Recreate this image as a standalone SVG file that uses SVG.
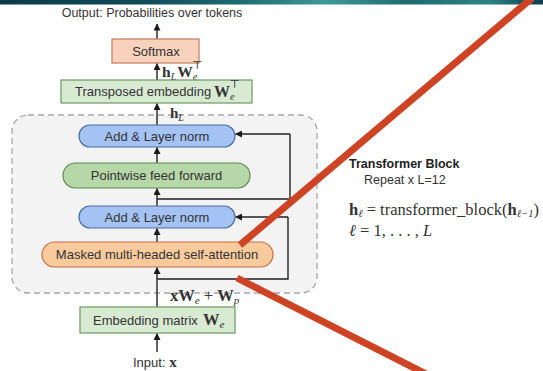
<svg xmlns="http://www.w3.org/2000/svg" width="543" height="371" viewBox="0 0 543 371">
  <defs>
    <linearGradient id="band" x1="0" y1="0" x2="1" y2="0">
      <stop offset="0" stop-color="#0b3a4b"/>
      <stop offset="0.25" stop-color="#0f4a58"/>
      <stop offset="0.45" stop-color="#1f6d74"/>
      <stop offset="0.6" stop-color="#3d9a9a"/>
      <stop offset="0.75" stop-color="#1d6a72"/>
      <stop offset="0.9" stop-color="#2c8486"/>
      <stop offset="1" stop-color="#0c3c4c"/>
    </linearGradient>
    <marker id="arr" viewBox="0 0 8 8" refX="7.5" refY="4" markerWidth="7" markerHeight="7" markerUnits="userSpaceOnUse" orient="auto">
      <path d="M0,0 L8,4 L0,8 Z" fill="#1a1a1a"/>
    </marker>
  </defs>
  <style>
    .lbl { font-family: "Liberation Sans", Arial, sans-serif; font-size: 13px; fill: #333; text-anchor: middle; }
    .math { font-family: "Liberation Serif", "DejaVu Serif", serif; fill: #333; }
    .b { font-weight: bold; }
    .it { font-style: italic; }
    .wire { stroke: #222; stroke-width: 1.4; fill: none; }
    .arrow { stroke: #222; stroke-width: 1.4; fill: none; marker-end: url(#arr); }
    .green { fill: #d9ead3; stroke: #6b9a5e; stroke-width: 1.2; }
    .pill-blue { fill: #a4c2f4; stroke: #4f6f9f; stroke-width: 1.2; }
    .pill-green { fill: #b6d7a8; stroke: #5e8a4e; stroke-width: 1.2; }
    .pill-orange { fill: #f9cb9c; stroke: #c4704a; stroke-width: 1.2; }
    .salmon { fill: #f9d2be; stroke: #c27a5c; stroke-width: 1.2; }
    .strike { stroke: #cf4325; stroke-width: 7; fill: none; }
  </style>

  <rect width="543" height="371" fill="#ffffff"/>
  <rect x="0" y="0" width="543" height="4.5" fill="url(#band)"/>

  <!-- repeated transformer block container -->
  <g id="block">
    <rect x="12" y="115" width="305" height="178" rx="16" fill="#f3f3f3" stroke="#a8a8a8" stroke-width="1.3" stroke-dasharray="6 4"/>
  </g>

  <!-- connectors -->
  <g id="connectors">
    <line class="arrow" x1="157" y1="39" x2="157" y2="24"/>
    <line class="arrow" x1="157" y1="80" x2="157" y2="63.5"/>
    <line class="arrow" x1="157" y1="125" x2="157" y2="103.5"/>
    <line class="arrow" x1="157" y1="163" x2="157" y2="147.5"/>
    <line class="arrow" x1="157" y1="206" x2="157" y2="188.5"/>
    <line class="arrow" x1="157" y1="242" x2="157" y2="228.5"/>
    <line class="arrow" x1="157" y1="307" x2="157" y2="267.5"/>
    <line class="arrow" x1="157" y1="352" x2="157" y2="333.5"/>
    <!-- residual around feed forward -->
    <polyline class="wire" points="157,199 290,199 290,134"/>
    <line class="arrow" x1="290" y1="134" x2="235.5" y2="134"/>
    <!-- residual around self-attention -->
    <polyline class="wire" points="157,279 288,279 288,217"/>
    <line class="arrow" x1="288" y1="217" x2="235.5" y2="217"/>
  </g>

  <text class="lbl" x="152" y="17" style="font-size:12.5px">Output: Probabilities over tokens</text>

  <g id="softmax">
    <rect class="salmon" x="112" y="39" width="87" height="24"/>
    <text class="lbl" x="156" y="56">Softmax</text>
  </g>

  <text class="math" x="162" y="77" font-size="15.5"><tspan class="b">h</tspan><tspan class="it" font-size="10" dy="3">L</tspan><tspan class="b" dy="-3" dx="1">W</tspan><tspan class="it" font-size="10" dy="3">e</tspan><tspan font-size="11" dx="-5" dy="-11">⊤</tspan></text>

  <g id="transposed-embedding">
    <rect class="green" x="61" y="80" width="191" height="23"/>
    <text class="lbl" x="75" y="96" style="text-anchor:start">Transposed embedding</text>
    <text class="math" x="214" y="97" font-size="16"><tspan class="b">W</tspan><tspan class="it" font-size="10" dy="3">e</tspan><tspan font-size="11" dx="-5" dy="-12">⊤</tspan></text>
  </g>

  <text class="math" x="170" y="118" font-size="15"><tspan class="b">h</tspan><tspan class="it" font-size="10" dy="3">L</tspan></text>

  <g id="add-norm-2">
    <rect class="pill-blue" x="79" y="125" width="156" height="22" rx="11"/>
    <text class="lbl" x="157" y="140.5">Add &amp; Layer norm</text>
  </g>

  <g id="feed-forward">
    <rect class="pill-green" x="63" y="163" width="187" height="25" rx="12.5"/>
    <text class="lbl" x="156.5" y="180">Pointwise feed forward</text>
  </g>

  <g id="add-norm-1">
    <rect class="pill-blue" x="79" y="206" width="156" height="22" rx="11"/>
    <text class="lbl" x="157" y="221.5">Add &amp; Layer norm</text>
  </g>

  <g id="self-attention">
    <rect class="pill-orange" x="42" y="242" width="231" height="25" rx="12.5"/>
    <text class="lbl" x="157" y="259">Masked multi-headed self-attention</text>
  </g>

  <text class="math" x="170" y="301" font-size="16.5"><tspan class="b">x</tspan><tspan class="b">W</tspan><tspan class="it" font-size="11" dy="3">e</tspan><tspan dy="-3"> + </tspan><tspan class="b">W</tspan><tspan class="it" font-size="11" dy="3">p</tspan></text>

  <g id="embedding">
    <rect class="green" x="80" y="307" width="155" height="26"/>
    <text class="lbl" x="93" y="324.5" style="text-anchor:start">Embedding matrix</text>
    <text class="math" x="203" y="325" font-size="16.5"><tspan class="b">W</tspan><tspan class="it" font-size="11" dy="3">e</tspan></text>
  </g>

  <text x="133" y="367"><tspan class="lbl" style="text-anchor:start">Input: </tspan><tspan class="math b" font-size="15">x</tspan></text>

  <!-- side notes -->
  <g id="notes">
    <text x="349" y="168" style="font-family:'Liberation Sans',Arial,sans-serif;font-size:12.5px;font-weight:bold;fill:#222">Transformer Block</text>
    <text x="364" y="184" style="font-family:'Liberation Sans',Arial,sans-serif;font-size:12.5px;fill:#333">Repeat x L=12</text>
    <text class="math" x="349" y="215" font-size="16.5"><tspan class="b">h</tspan><tspan class="it" font-size="10.5" dy="2">ℓ</tspan><tspan dy="-2"> = transformer_block(</tspan><tspan class="b">h</tspan><tspan class="it" font-size="10.5" dy="2">ℓ−1</tspan><tspan dy="-2">)</tspan></text>
    <text class="math" x="349" y="236" font-size="16.5"><tspan class="it">ℓ</tspan><tspan> = 1, . . . , </tspan><tspan class="it">L</tspan></text>
  </g>

  <!-- red strike marks -->
  <line class="strike" x1="240" y1="245" x2="532" y2="-2"/>
  <line class="strike" x1="237" y1="278" x2="430" y2="376"/>
</svg>
